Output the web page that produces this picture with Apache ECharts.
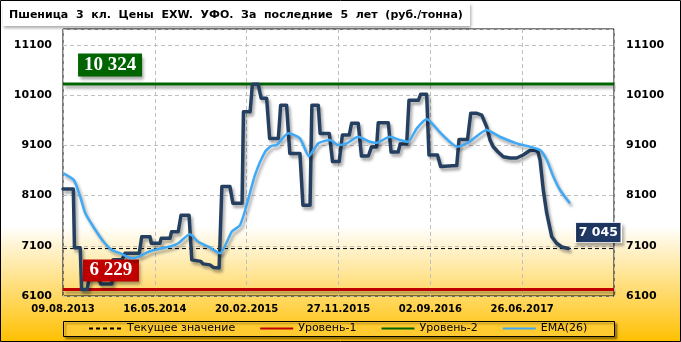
<!DOCTYPE html>
<html><head><meta charset="utf-8">
<script src="https://cdn.jsdelivr.net/npm/echarts@6/dist/echarts.min.js"></script>
<style>html,body{margin:0;padding:0;background:#fff}#c{width:681px;height:342px}</style>
</head><body><div id="c"></div>
<script>
const titleText = 'Пшеница  3  кл.  Цены  EXW.  УФО.  За  последние  5  лет  (руб./тонна)';
const xTickLabels = ['09.08.2013','16.05.2014','20.02.2015','27.11.2015','02.09.2016','26.06.2017'];
const weeksPerTick = 40;
const axisWeeks = 240;
const yMin = 6100, yMax = 11420, yStep = 1000;
const legendNames = ['Текущее значение','Уровень-1','Уровень-2','EMA(26)'];
const currentValue = 7045;
const level1 = 6229;
const level2 = 10324;

const priceWeek = [0,4.5,5,7.5,8.1,10.5,11.5,15,16.5,21.3,21.8,25.7,27,33.2,34.3,37.9,38.5,42.2,42.8,46.6,47.3,50.2,51.4,54.9,56.1,60,61,64,65.5,68,69.2,72.7,74,78,78.6,81.5,82.5,85,86.3,88.7,90,93.8,94.8,97.4,98.8,103.2,104.5,107.6,108.4,111.2,112,116,117.4,120.3,121.7,124.7,125.7,128.6,130,133,134.4,136.6,137.3,141.7,142.9,146,146.9,149.7,150.7,154.8,155.8,158.4,159.4,163.1,164.5,171.5,172.5,176.2,177.6,180.3,182.4,184.6,186,187.4,189.5,191.8,194.7,197.6,200.4,203.4,205.6,206.9,207.8,209.2,210.7,212.9,215,217.3,220.1];
const priceValue = [8230,8230,7060,7060,6229,6229,6500,6500,6340,6340,6820,6820,6950,6950,7280,7280,7150,7150,7250,7250,7380,7380,7710,7710,6820,6790,6740,6720,6670,6660,8280,8280,7950,7950,9770,9770,10320,10320,10040,10040,9240,9240,9900,9900,8940,8940,7910,7910,9900,9900,9340,9340,8780,8780,9310,9310,9540,9540,8890,8890,9070,9070,9550,9550,8970,8970,9130,9130,10000,10000,10120,10120,8910,8910,8680,8700,9220,9220,9740,9740,9705,9466,9207,9074,8970,8875,8850,8850,8910,9000,9008,8970,8810,8210,7750,7280,7150,7076,7045];

const emaWeek = [0,4.7,7.5,9.7,14.1,17.7,21.3,25,30,33,37.3,43.1,47.5,50.2,55.3,58.9,63.3,68.4,73.5,77.1,80,83.6,88,90.9,93.1,98.1,103.2,107.1,111.2,116.3,119.9,123.6,128.6,133.7,136.6,142.4,146.8,150.3,154.1,158.5,164.6,171.8,176.8,184.6,190.3,197.6,203.4,207.8,210.7,213.6,216.5,220.8];
const emaValue = [8550,8411,8078,7747,7415,7182,7016,6951,6851,6883,6982,7050,7096,7150,7329,7182,7082,6951,7381,7514,7913,8510,8974,9094,9108,9341,9241,8889,9142,9208,9108,9142,9273,9174,9154,9273,9208,9174,9441,9620,9341,9074,9168,9407,9273,9142,9074,9008,8809,8476,8212,7947];

const fmt = n => String(n).replace(/\B(?=(\d{3})+(?!\d))/g, ' ');
const zip = (a, b) => a.map((x, i) => [x, b[i]]);
const flat = v => [[0, v], [axisWeeks, v]];
const shadow = {shadowColor:'rgba(0,0,0,0.35)', shadowBlur:3, shadowOffsetX:2, shadowOffsetY:3};
const lastIdx = priceWeek.length - 1;

const chart = echarts.init(document.getElementById('c'), null, {renderer:'canvas'});
chart.setOption({
  animation: false,
  backgroundColor: {type:'linear', x:0, y:0, x2:0, y2:1, colorStops:[
    {offset:0, color:'#FFFFFF'}, {offset:0.66, color:'#FFFFFF'}, {offset:1, color:'#FFC000'}]},
  textStyle: {fontFamily:'DejaVu Sans'},
  graphic: [
    {type:'rect', shape:{x:0.5, y:0.5, width:680, height:341}, style:{fill:'none', stroke:'#000', lineWidth:1}, z:100},
    {type:'rect', shape:{x:3, y:3, width:467, height:23}, style:{fill:'#fff', shadowColor:'rgba(0,0,0,0.35)', shadowBlur:3, shadowOffsetX:1, shadowOffsetY:2}, z:1},
    {type:'text', x:9, y:15, style:{text:titleText, fill:'#000', font:'bold 11px "DejaVu Sans"', textVerticalAlign:'middle'}, z:2},
    {type:'rect', shape:{x:63.5, y:321.5, width:551, height:15}, style:{fill:'#FFCB30', stroke:'#000', lineWidth:1, shadowColor:'rgba(0,0,0,0.35)', shadowBlur:2, shadowOffsetX:2, shadowOffsetY:2}, z:1}
  ],
  grid: {left:63, right:67, top:29, bottom:46, show:true, borderColor:'#000', borderWidth:1, backgroundColor:'transparent'},
  legend: {
    data: legendNames, left:88, top:323, padding:0, itemWidth:33, itemHeight:12, itemGap:24,
    itemStyle:{opacity:0},
    textStyle:{fontFamily:'DejaVu Sans', fontSize:11, color:'#000'}, z:3
  },
  xAxis: {
    type:'value', min:0, max:axisWeeks, interval:weeksPerTick,
    axisLine:{show:false}, axisTick:{show:false},
    splitLine:{show:true, lineStyle:{color:'#BFBFBF', type:[4,3], width:1}},
    axisLabel:{margin:8, color:'#000', fontWeight:'bold', fontSize:10, fontFamily:'DejaVu Sans',
      formatter: v => xTickLabels[Math.round(v / weeksPerTick)] || ''}
  },
  yAxis: [
    {type:'value', min:yMin, max:yMax, interval:yStep, position:'left',
      axisLine:{show:false}, axisTick:{show:false},
      splitLine:{show:true, lineStyle:{color:'#BFBFBF', type:[4,3], width:1}},
      axisLabel:{margin:11, color:'#000', fontWeight:'bold', fontSize:11, fontFamily:'DejaVu Sans',
        formatter: v => ((v - yMin) % yStep === 0 ? String(v) : '')}},
    {type:'value', min:yMin, max:yMax, interval:yStep, position:'right',
      axisLine:{show:false}, axisTick:{show:false}, splitLine:{show:false},
      axisLabel:{margin:12, color:'#000', fontWeight:'bold', fontSize:11, fontFamily:'DejaVu Sans',
        formatter: v => ((v - yMin) % yStep === 0 ? String(v) : '')}}
  ],
  series: [
    {name:'Текущее значение', type:'line', data:flat(currentValue), symbol:'none', silent:true,
      lineStyle:{color:'#000', width:1, type:[4,3]}, z:3},
    {name:'Уровень-1', type:'line', data:flat(level1), symbol:'none', silent:true,
      lineStyle:Object.assign({color:'#C00000', width:3}, shadow), z:2,
      markPoint:{symbol:'rect', symbolSize:[56,22], symbolOffset:[0,-19], silent:true,
        itemStyle:Object.assign({color:'#C00000'}, shadow),
        label:{show:true, color:'#fff', fontFamily:'Liberation Serif', fontWeight:'bold', fontSize:19, formatter:() => fmt(level1)},
        data:[{coord:[20.9, level1]}]}},
    {name:'Уровень-2', type:'line', data:flat(level2), symbol:'none', silent:true,
      lineStyle:Object.assign({color:'#006400', width:3}, shadow), z:2,
      markPoint:{symbol:'rect', symbolSize:[64,23], symbolOffset:[0,-19], silent:true,
        itemStyle:Object.assign({color:'#006400'}, shadow),
        label:{show:true, color:'#fff', fontFamily:'Liberation Serif', fontWeight:'bold', fontSize:19, formatter:() => fmt(level2)},
        data:[{coord:[20.5, level2]}]}},
    {name:'Цена', type:'line', data:zip(priceWeek, priceValue), symbol:'none', silent:true,
      lineStyle:Object.assign({color:'#243F60', width:3.5, join:'round', cap:'round'}, shadow), z:4,
      markPoint:{symbol:'rect', symbolSize:[46,20], symbolOffset:[30,-16], silent:true,
        itemStyle:Object.assign({color:'#1F3864', borderColor:'#fff', borderWidth:1}, shadow),
        label:{show:true, color:'#fff', fontFamily:'DejaVu Sans', fontWeight:'bold', fontSize:12.5, formatter:() => fmt(currentValue)},
        data:[{coord:[priceWeek[lastIdx], priceValue[lastIdx]]}]}},
    {name:'EMA(26)', type:'line', data:zip(emaWeek, emaValue), symbol:'none', silent:true, smooth:0.2,
      lineStyle:Object.assign({color:'#3FA9F5', width:2.5, join:'round'}, shadow), z:5}
  ]
});
</script></body></html>
